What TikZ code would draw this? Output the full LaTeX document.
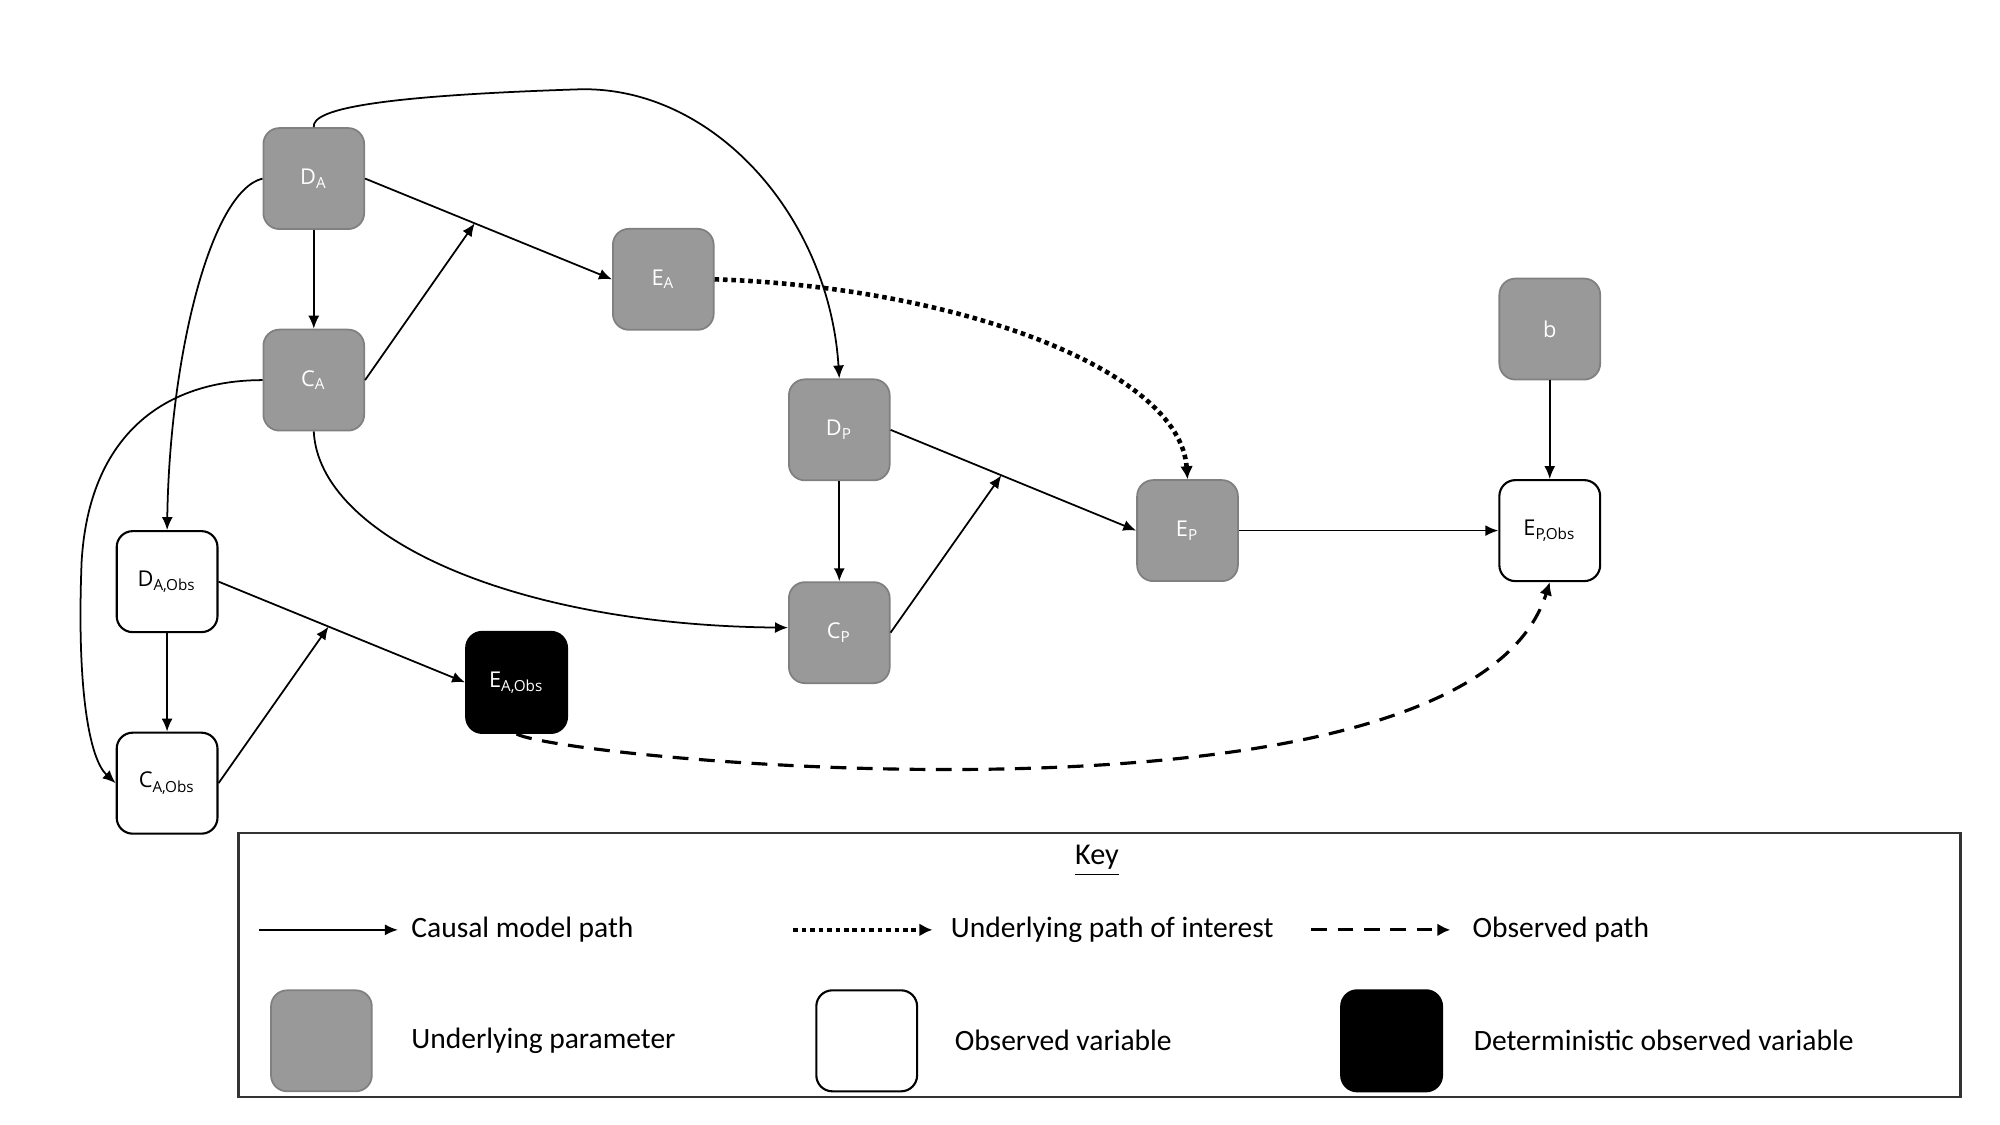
\documentclass[tikz,border=0pt]{standalone}
\usepackage{fontspec}
\setmainfont{Carlito}
\newfontfamily\nodefont{Open Sans}
\usetikzlibrary{arrows.meta,calc}
\tikzset{
  every picture/.style={x=0.0127551cm,y=-0.0127551cm},
  base/.style={rounded corners=0.16cm,minimum width=1.008cm,minimum height=1.01cm,inner sep=0pt,
    font=\nodefont\fontsize{6.2}{7}\selectfont},
  gnode/.style={base,fill=black!40,draw=black!50,line width=0.5pt,text=white},
  onode/.style={base,fill=white,draw=black,line width=0.6pt,text=black},
  dnode/.style={base,fill=black,draw=black,line width=0.6pt,text=white},
  arr/.style={-{Latex[length=1.3mm,width=1.1mm]},line width=0.5pt},
  dotarr/.style={-{Latex[length=1.3mm,width=1.3mm]},line width=1.3pt,dash pattern=on 1.3pt off 1.1pt},
  dasharr/.style={-{Latex[length=1.3mm,width=1.3mm]},line width=0.9pt,dash pattern=on 4.5pt off 3pt},
  keytext/.style={anchor=west,font=\fontsize{8.4}{10}\selectfont,inner sep=0pt},
}
\begin{document}
\begin{tikzpicture}
\useasboundingbox (0,0) rectangle (1568,882);
% nodes
\node[gnode] (DA) at (246,140) {D\textsubscript{A}};
\node[gnode] (CA) at (246,298) {C\textsubscript{A}};
\node[gnode] (EA) at (520,219) {E\textsubscript{A}};
\node[gnode] (DP) at (658,337) {D\textsubscript{P}};
\node[gnode] (CP) at (658,496) {C\textsubscript{P}};
\node[gnode] (EP) at (931,416) {E\textsubscript{P}};
\node[gnode] (b) at (1215,258) {b};
\node[onode] (EPO) at (1215,416) {E\textsubscript{P,Obs}};
\node[onode] (DAO) at (131,456) {D\textsubscript{A,Obs}};
\node[onode] (CAO) at (131,614) {C\textsubscript{A,Obs}};
\node[dnode] (EAO) at (405,535) {E\textsubscript{A,Obs}};
% moderation points
\coordinate (m1) at ($(DA.east)!0.444!(EA.west)$);
\coordinate (m2) at ($(DP.east)!0.451!(EP.west)$);
\coordinate (m3) at ($(DAO.east)!0.446!(EAO.west)$);
% edges
\draw[arr] (DA) -- (CA);
\draw[arr] (DA.east) -- (EA.west);
\draw[arr] (CA.east) -- (m1);
\draw[arr] (DA.north) .. controls (244,85) and (300,75) .. (455,70) .. controls (560,68) and (650,170) .. (DP.north);
\draw[arr] (DA.west) .. controls (165,150) and (133,280) .. (DAO.north);
\draw[arr] (CA.west) .. controls (130,298) and (70,340) .. (64,440) .. controls (60,540) and (70,595) .. (CAO.west);
\draw[arr] (CA.south) .. controls (250,420) and (400,490) .. ([yshift=0.05cm]CP.west);
\draw[arr] (DP) -- (CP);
\draw[arr] (DP.east) -- (EP.west);
\draw[arr] (CP.east) -- (m2);
\draw[dotarr] (EA.east) .. controls (750,225) and (925,290) .. (EP.north);
\draw[arr] (EP.east) -- (EPO.west);
\draw[arr] (b) -- (EPO);
\draw[arr] (DAO) -- (CAO);
\draw[arr] (DAO.east) -- (EAO.west);
\draw[arr] (CAO.east) -- (m3);
\draw[dasharr] (EAO.south) .. controls (440,595) and (1150,665) .. (EPO.south);
% key
\node[draw=black!80,line width=0.7pt,minimum width=17.22cm,minimum height=2.64cm,inner sep=0pt] (keybox) at (862,756.5) {};
\node[font=\fontsize{8.6}{10}\selectfont,inner sep=0pt] (keytitle) at (860,675) {\underline{Key}};
\coordinate (k1a) at (203,729); \coordinate (k1b) at (312,729);
\coordinate (k2a) at (622,729); \coordinate (k2b) at (731,729);
\coordinate (k3a) at (1028,729); \coordinate (k3b) at (1137,729);
\draw[arr] (k1a) -- (k1b);
\draw[dotarr,line width=1.1pt] (k2a) -- (k2b);
\draw[dasharr] (k3a) -- (k3b);
\node[keytext] (t1) at (322,729) {Causal model path};
\node[keytext] (t2) at (745,729) {Underlying path of interest};
\node[keytext] (t3) at (1154,729) {Observed path};
\node[gnode] (kg) at (252,816) {};
\node[onode] (ko) at (679.5,816) {};
\node[dnode] (kd) at (1091,816) {};
\node[keytext] (t4) at (322,816) {Underlying parameter};
\node[keytext] (t5) at (748,816) {Observed variable};
\node[keytext] (t6) at (1155,816) {Deterministic observed variable};
\end{tikzpicture}
\end{document}
